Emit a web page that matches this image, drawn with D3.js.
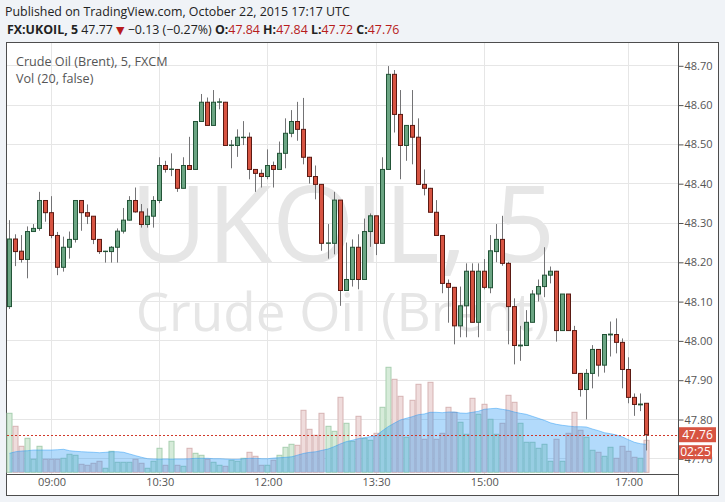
<!DOCTYPE html>
<html lang="en">
<head>
<meta charset="UTF-8" />
<title>FX:UKOIL, 5</title>
<script src="https://d3js.org/d3.v7.min.js"></script>
<style>
  body { margin: 0; padding: 0; background: #f0f3f7; font-family: "Open Sans", sans-serif; }
  svg { display: block; }
  .axis text { font-family: "Open Sans", sans-serif; font-size: 11px; fill: #555; }
</style>
</head>
<body>
<svg width="725" height="502"></svg>
<script>
// 5 minute bars, Oct 22 2015, first bar 08:25 UTC
const firstBar = "2015-10-22T08:25:00Z";

const opens = [
  48.086, 48.258, 48.227, 48.206, 48.277, 48.285, 48.356, 48.325, 48.267, 48.186,
  48.237, 48.257, 48.356, 48.325, 48.316, 48.257, 48.226, 48.226, 48.237, 48.278,
  48.306, 48.356, 48.327, 48.295, 48.316, 48.356, 48.445, 48.435, 48.435, 48.387,
  48.445, 48.435, 48.557, 48.606, 48.547, 48.606, 48.606, 48.496, 48.496, 48.516,
  48.517, 48.435, 48.425, 48.417, 48.445, 48.435, 48.476, 48.527, 48.557, 48.537,
  48.466, 48.417, 48.397, 48.247, 48.247, 48.357, 48.127, 48.155, 48.237, 48.155,
  48.277, 48.317, 48.247, 48.435, 48.677, 48.575, 48.496, 48.547, 48.517, 48.397,
  48.387, 48.326, 48.267, 48.145, 48.135, 48.037, 48.088, 48.176, 48.046, 48.176,
  48.134, 48.226, 48.257, 48.196, 48.086, 47.986, 47.987, 48.046, 48.118, 48.137,
  48.166, 48.176, 48.025, 48.118, 48.025, 47.916, 47.875, 47.916, 47.977, 47.937,
  48.014, 48.015, 47.995, 47.926, 47.855, 47.836, 47.840
];
const highs = [
  48.306, 48.270, 48.268, 48.290, 48.296, 48.378, 48.357, 48.367, 48.276, 48.264,
  48.277, 48.357, 48.357, 48.346, 48.316, 48.257, 48.228, 48.240, 48.285, 48.337,
  48.367, 48.389, 48.347, 48.336, 48.367, 48.466, 48.457, 48.476, 48.436, 48.466,
  48.518, 48.557, 48.627, 48.618, 48.637, 48.616, 48.607, 48.510, 48.537, 48.558,
  48.529, 48.435, 48.435, 48.486, 48.455, 48.506, 48.565, 48.586, 48.607, 48.617,
  48.467, 48.445, 48.397, 48.296, 48.378, 48.357, 48.249, 48.257, 48.270, 48.310,
  48.323, 48.317, 48.466, 48.698, 48.688, 48.637, 48.548, 48.637, 48.565, 48.435,
  48.388, 48.357, 48.267, 48.155, 48.136, 48.137, 48.196, 48.196, 48.196, 48.207,
  48.268, 48.296, 48.317, 48.200, 48.107, 48.037, 48.077, 48.128, 48.155, 48.237,
  48.188, 48.177, 48.118, 48.118, 48.037, 47.917, 47.927, 47.988, 47.978, 48.016,
  48.048, 48.056, 48.005, 47.957, 47.865, 47.865, 47.840
];
const lows = [
  48.080, 48.189, 48.198, 48.158, 48.277, 48.279, 48.302, 48.260, 48.166, 48.175,
  48.208, 48.249, 48.279, 48.296, 48.245, 48.220, 48.198, 48.198, 48.198, 48.272,
  48.305, 48.325, 48.287, 48.287, 48.287, 48.349, 48.427, 48.418, 48.378, 48.387,
  48.435, 48.435, 48.557, 48.547, 48.547, 48.588, 48.496, 48.438, 48.467, 48.497,
  48.410, 48.378, 48.389, 48.410, 48.389, 48.435, 48.438, 48.517, 48.508, 48.448,
  48.399, 48.359, 48.228, 48.208, 48.219, 48.088, 48.127, 48.137, 48.130, 48.155,
  48.238, 48.217, 48.247, 48.435, 48.529, 48.410, 48.457, 48.448, 48.397, 48.369,
  48.326, 48.267, 48.120, 48.045, 47.990, 48.008, 48.008, 48.046, 48.008, 48.130,
  48.120, 48.199, 48.190, 47.990, 47.939, 47.948, 47.987, 48.046, 48.099, 48.110,
  48.145, 47.997, 48.025, 48.025, 47.916, 47.857, 47.799, 47.878, 47.908, 47.918,
  47.959, 47.967, 47.878, 47.840, 47.808, 47.820, 47.720
];
const closes = [
  48.258, 48.226, 48.206, 48.277, 48.285, 48.356, 48.325, 48.267, 48.186, 48.237,
  48.257, 48.356, 48.325, 48.316, 48.257, 48.226, 48.227, 48.237, 48.278, 48.306,
  48.356, 48.327, 48.295, 48.316, 48.356, 48.445, 48.435, 48.436, 48.387, 48.445,
  48.435, 48.557, 48.606, 48.547, 48.606, 48.607, 48.496, 48.497, 48.517, 48.517,
  48.435, 48.425, 48.417, 48.445, 48.435, 48.476, 48.527, 48.557, 48.537, 48.466,
  48.417, 48.397, 48.247, 48.248, 48.357, 48.127, 48.155, 48.237, 48.155, 48.277,
  48.317, 48.247, 48.435, 48.677, 48.575, 48.496, 48.547, 48.517, 48.397, 48.387,
  48.326, 48.267, 48.145, 48.135, 48.037, 48.088, 48.176, 48.046, 48.176, 48.135,
  48.228, 48.257, 48.196, 48.086, 47.987, 47.988, 48.046, 48.118, 48.137, 48.166,
  48.176, 48.025, 48.118, 48.025, 47.916, 47.875, 47.916, 47.977, 47.937, 48.015,
  48.016, 47.995, 47.926, 47.855, 47.837, 47.838, 47.760
];
const volumes = [
  59, 46, 26, 34, 13, 26, 13, 13, 13, 14,
  18, 17, 8, 7, 9, 11, 4, 21, 10, 10,
  10, 13, 9, 4, 11, 24, 7, 31, 7, 6,
  24, 19, 17, 13, 10, 7, 6, 12, 11, 14,
  20, 16, 7, 7, 12, 17, 25, 28, 27, 62,
  43, 37, 59, 46, 41, 75, 49, 31, 56, 34,
  32, 39, 65, 105, 93, 76, 35, 72, 88, 33,
  90, 33, 39, 65, 60, 50, 38, 74, 58, 68,
  53, 38, 49, 77, 70, 49, 30, 30, 24, 28,
  11, 33, 11, 39, 60, 42, 35, 22, 20, 16,
  25, 14, 26, 21, 15, 14, 32
];
// Vol (20) moving average
const volumeMA = [
  19, 20.6, 21.3, 21.6, 22.3, 22.3, 22.3, 22.3, 22.6, 23,
  21.6, 21, 20.6, 20.3, 20, 19.6, 20, 20.6, 20.6, 20,
  18.3, 16.6, 15, 13.6, 13.3, 13.3, 13.3, 13.3, 13.3, 13.3,
  13.6, 14, 14, 14, 13.6, 13.6, 13.3, 13, 13, 13.6,
  14, 14, 13.6, 13.6, 14.3, 14.6, 15, 15.6, 17.3, 19,
  20, 20.6, 22, 23.3, 25.6, 28.3, 30.6, 32, 33.6, 34.6,
  35.6, 36.6, 41.3, 45.6, 49, 52.3, 54, 55.6, 57.6, 58.3,
  60, 60, 59.6, 60.3, 60.3, 59.3, 59, 60, 61, 63,
  63.6, 64, 63, 62, 60.3, 59, 58, 56, 54, 52,
  49.5, 48, 47, 46.3, 45.6, 45.6, 45.3, 43.3, 41.6, 39.6,
  38.6, 37.3, 35.3, 32.6, 30, 28.6, 28
];

const priceTicks = [47.70, 47.80, 47.90, 48.00, 48.10, 48.20, 48.30, 48.40, 48.50, 48.60, 48.70];
const timeTicks = ["09:00", "10:30", "12:00", "13:30", "15:00", "17:00"];
const lastPrice = 47.76;
const countdown = "02:25";

const svg = d3.select("svg");
const W = 725, H = 502;
const plot = { left: 7, right: 678, top: 43, bottom: 474 };
const colors = {
  up: "#6ba583", upBorder: "#225437",
  down: "#d75442", downBorder: "#5b1a13",
  wick: "#737375", grid: "#e6e6e6", red: "#b71c1c"
};

const start = new Date(firstBar);
const times = d3.utcMinute.every(5).range(start, d3.utcMinute.offset(start, opens.length * 5));
const bars = times.map((t, i) => ({
  t, o: opens[i], h: highs[i], l: lows[i], c: closes[i], v: volumes[i], ma: volumeMA[i]
}));

const x = d3.scaleUtc().domain([times[0], times[times.length - 1]]).range([9, 646]);
const y = d3.scaleLinear().domain([47.70, 48.70]).range([458.3, 65.3]);
const vy = d3.scaleLinear().domain([0, 100]).range([472.3, 372.3]);
const parseTick = d3.utcParse("%Y-%m-%d %H:%M");
const tickDates = timeTicks.map(s => parseTick("2015-10-22 " + s));

// background + frame
svg.append("rect").attr("width", W).attr("height", H).attr("fill", "#f0f3f7");
svg.append("rect")
  .attr("x", 6.5).attr("y", 42.5).attr("width", 712).attr("height", 453)
  .attr("fill", "#fff").attr("stroke", "#4d4d4d");

// header
svg.append("text").attr("x", 5).attr("y", 16)
  .style("font-size", "12.4px").attr("fill", "#222")
  .text("Published on TradingView.com, October 22, 2015 17:17 UTC");

const head = svg.append("text").attr("x", 7).attr("y", 34)
  .style("font-size", "12.4px").attr("fill", "#222").attr("xml:space", "preserve");
head.append("tspan").attr("font-weight", "bold").text("FX:UKOIL, 5");
head.append("tspan").text(" 47.77 ");
head.append("tspan").attr("fill", colors.red).style("font-family", "DejaVu Sans")
  .style("font-size", "11px").text("\u25BC");
head.append("tspan").text(" \u22120.13 (\u22120.27%) ");
[["O:", "47.84"], ["H:", "47.84"], ["L:", "47.72"], ["C:", "47.76"]].forEach(([k, v], i) => {
  head.append("tspan").attr("font-weight", "bold").text((i ? " " : "") + k);
  head.append("tspan").attr("fill", colors.red).text(v);
});

// watermark
const wm = svg.append("g").attr("fill", "#e6e6e6").attr("text-anchor", "middle");
wm.append("text").attr("x", (plot.left + plot.right) / 2).attr("y", 262)
  .style("font-size", "106px").text("UKOIL, 5");
wm.append("text").attr("x", (plot.left + plot.right) / 2).attr("y", 331)
  .style("font-size", "53px").text("Crude Oil (Brent)");

// grid
svg.append("g").selectAll("line").data(priceTicks).join("line")
  .attr("x1", plot.left).attr("x2", plot.right)
  .attr("y1", d => Math.round(y(d)) + 0.5).attr("y2", d => Math.round(y(d)) + 0.5)
  .attr("stroke", colors.grid);
svg.append("g").selectAll("line").data(tickDates).join("line")
  .attr("x1", d => Math.round(x(d)) + 0.5).attr("x2", d => Math.round(x(d)) + 0.5)
  .attr("y1", plot.top).attr("y2", plot.bottom)
  .attr("stroke", colors.grid);

// legend
svg.append("text").attr("x", 16).attr("y", 66).style("font-size", "12.6px").attr("fill", "#555")
  .text("Crude Oil (Brent), 5, FXCM");
svg.append("text").attr("x", 16).attr("y", 83).style("font-size", "12.6px").attr("fill", "#555")
  .text("Vol (20, false)");

// volume bars
const up = d => d.c >= d.o;
svg.append("g").selectAll("rect").data(bars).join("rect")
  .attr("x", d => Math.round(x(d.t)) - 2)
  .attr("y", d => vy(d.v))
  .attr("width", 5)
  .attr("height", d => vy(0) - vy(d.v))
  .attr("fill", d => up(d) ? "#d6ebd9" : "#efdcdc")
  .attr("stroke", d => up(d) ? "#a8cfb0" : "#d6b3b3");

// volume MA area
const maArea = d3.area()
  .x(d => x(d.t) + 0.5)
  .y0(vy(0))
  .y1(d => vy(d.ma));
svg.append("path").datum(bars).attr("d", maArea)
  .attr("fill", "rgba(33,150,243,0.35)");
svg.append("path").datum(bars).attr("d", maArea.lineY1())
  .attr("fill", "none").attr("stroke", "rgba(33,150,243,0.45)");

// last price line
svg.append("line")
  .attr("x1", plot.left).attr("x2", plot.right)
  .attr("y1", Math.round(y(lastPrice)) + 0.5).attr("y2", Math.round(y(lastPrice)) + 0.5)
  .attr("stroke", "#d0392b").attr("stroke-dasharray", "2,2");

// candles
const candle = svg.append("g").selectAll("g").data(bars).join("g");
candle.append("line")
  .attr("x1", d => Math.round(x(d.t)) + 0.5).attr("x2", d => Math.round(x(d.t)) + 0.5)
  .attr("y1", d => y(d.h)).attr("y2", d => y(d.l))
  .attr("stroke", colors.wick);
candle.append("rect")
  .attr("x", d => Math.round(x(d.t)) - 1.5)
  .attr("y", d => y(Math.max(d.o, d.c)))
  .attr("width", 4)
  .attr("height", d => Math.max(0.01, Math.abs(y(d.o) - y(d.c))))
  .attr("fill", d => up(d) ? colors.up : colors.down)
  .attr("stroke", d => up(d) ? colors.upBorder : colors.downBorder);

// axes
svg.append("line").attr("x1", plot.right + 0.5).attr("x2", plot.right + 0.5)
  .attr("y1", 43).attr("y2", 495).attr("stroke", "#4d4d4d");
svg.append("line").attr("x1", 7).attr("x2", plot.right)
  .attr("y1", plot.bottom + 0.5).attr("y2", plot.bottom + 0.5).attr("stroke", "#4d4d4d");

const yAxis = svg.append("g").attr("class", "axis")
  .attr("transform", `translate(${plot.right + 0.5},0.5)`)
  .call(d3.axisRight(y).tickValues(priceTicks).tickSize(5).tickPadding(1).tickFormat(d3.format(".2f")));
yAxis.select(".domain").remove();
yAxis.selectAll(".tick line").attr("stroke", "#555");

const xAxis = svg.append("g").attr("class", "axis")
  .attr("transform", `translate(0.5,${plot.bottom})`)
  .call(d3.axisBottom(x).tickValues(tickDates).tickSize(0).tickPadding(4).tickFormat(d3.utcFormat("%H:%M")));
xAxis.select(".domain").remove();
xAxis.selectAll("text").attr("fill", "#444");

// price tags (drawn over the 47.70 label, as in the original)
const ly = y(lastPrice);
svg.append("rect").attr("x", 679).attr("y", ly - 7.5).attr("width", 37).attr("height", 15).attr("fill", colors.down);
svg.append("text").attr("x", 697.5).attr("y", ly).attr("dy", "0.35em").attr("text-anchor", "middle")
  .style("font-size", "12px").attr("fill", "#fff").text(d3.format(".2f")(lastPrice));
svg.append("rect").attr("x", 679).attr("y", ly + 10.5).attr("width", 33).attr("height", 14).attr("fill", colors.down);
svg.append("text").attr("x", 695.5).attr("y", ly + 17.5).attr("dy", "0.35em").attr("text-anchor", "middle")
  .style("font-size", "12px").attr("fill", "#fff").text(countdown);
</script>
</body>
</html>
